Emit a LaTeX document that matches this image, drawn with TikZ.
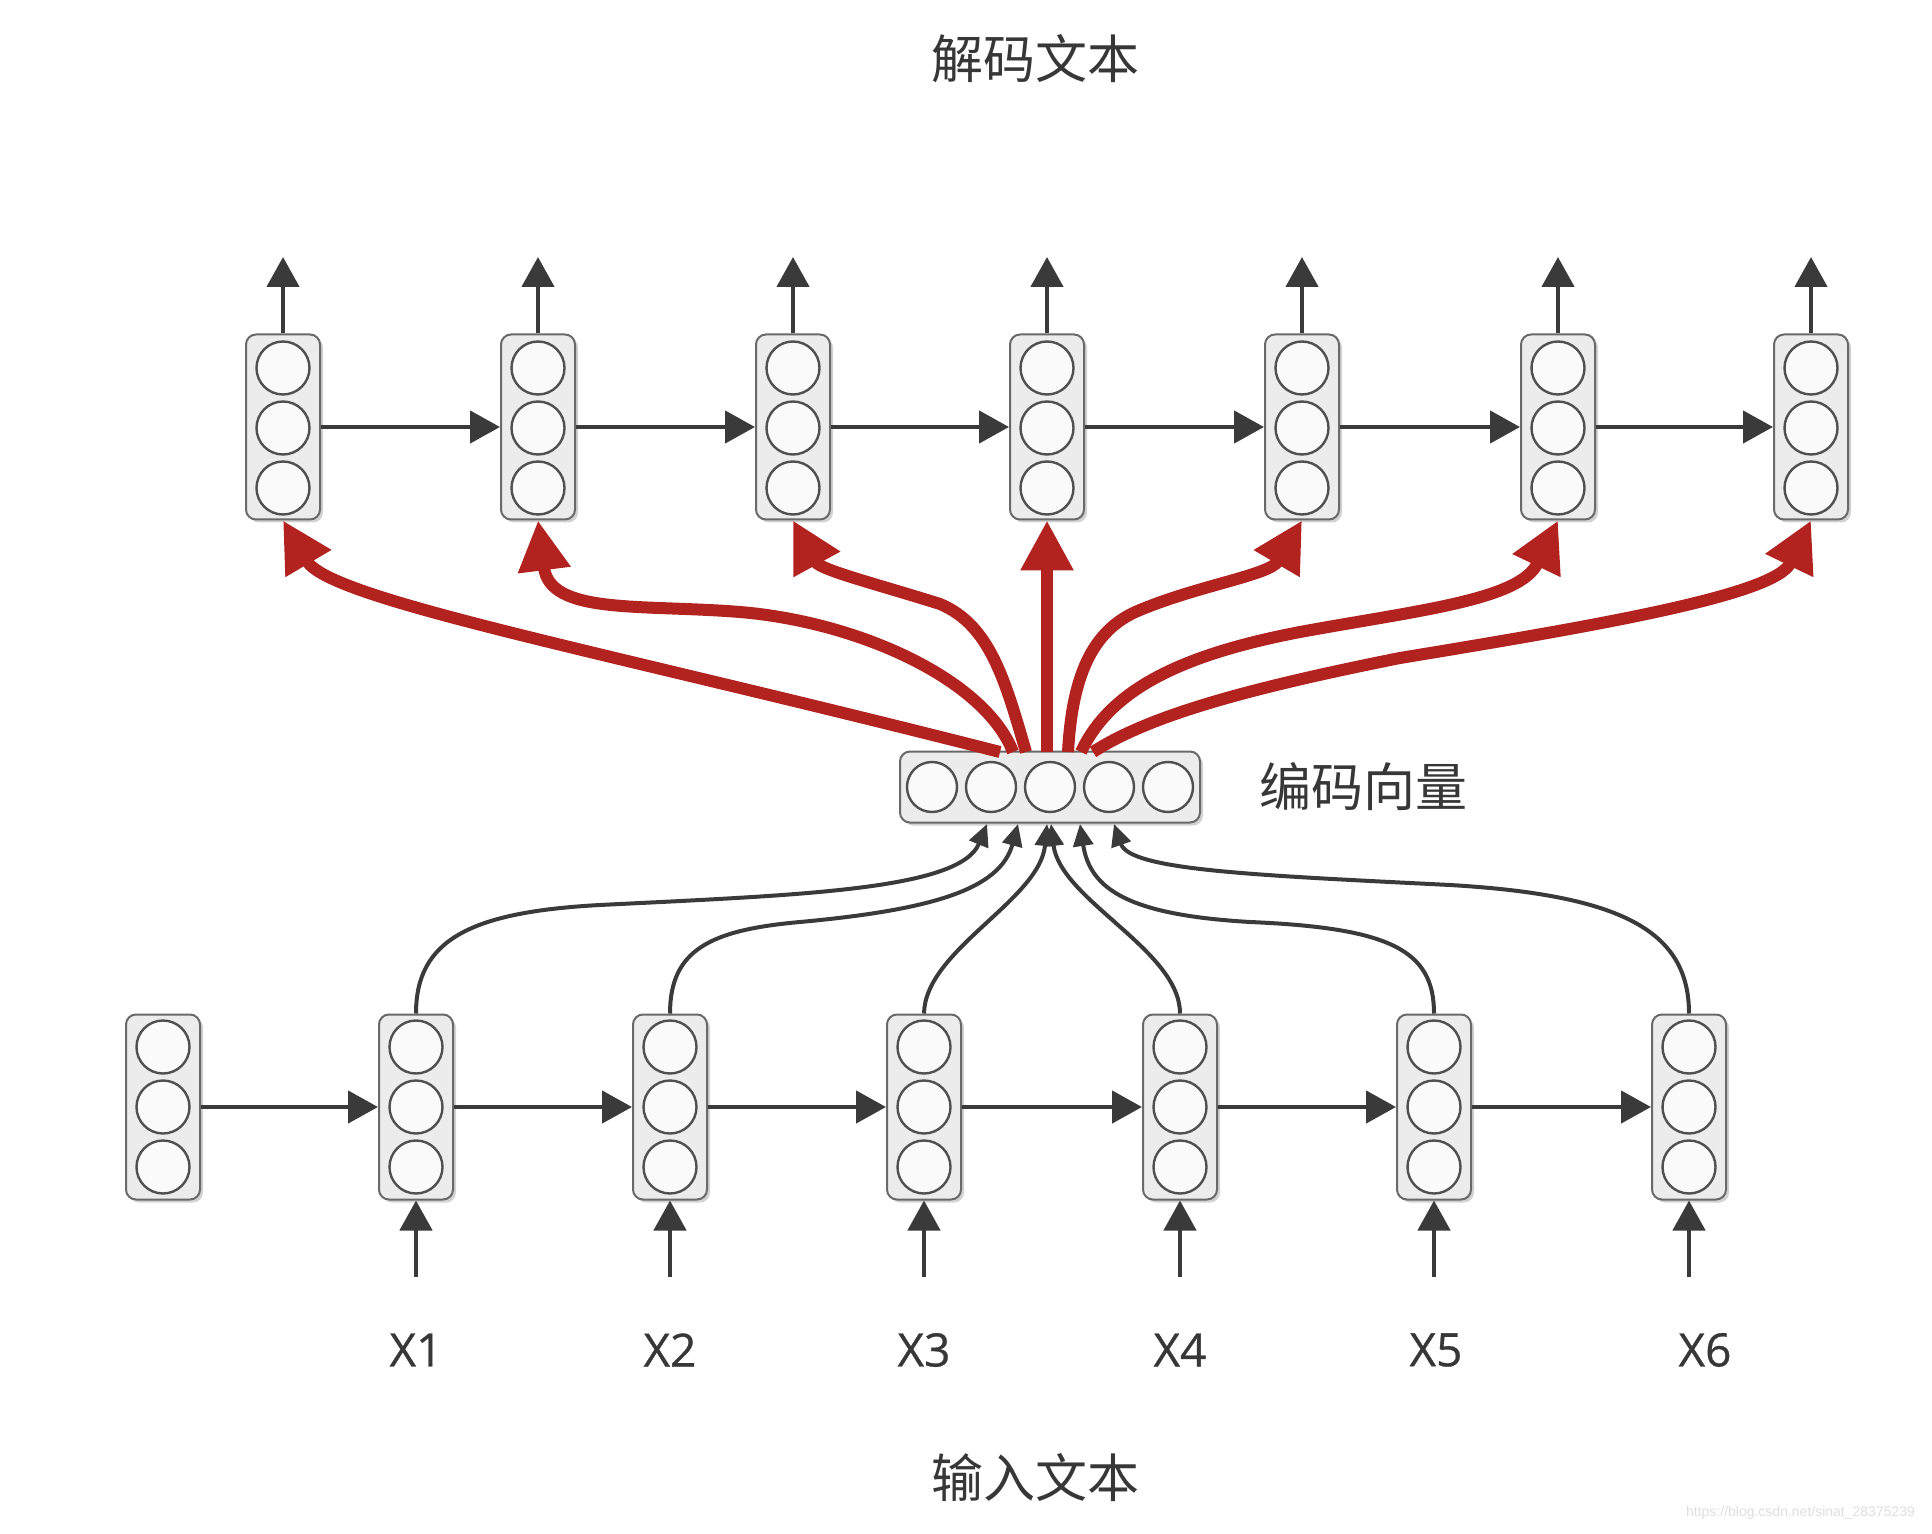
\documentclass[tikz,border=0pt]{standalone}
\usepackage{fontspec}
\usetikzlibrary{arrows.meta,shadows}
\newfontfamily\cjk{Noto Sans CJK SC}
\newfontfamily\labfont[FakeBold=0.6]{Open Sans}
\newfontfamily\wmfont{Liberation Sans}
\definecolor{ctxred}{RGB}{178,34,30}
\definecolor{linecol}{RGB}{58,58,58}
\definecolor{cellborder}{RGB}{105,105,105}
\definecolor{cellfill}{RGB}{236,236,236}
\definecolor{circborder}{RGB}{80,80,80}
\definecolor{labcol}{RGB}{55,55,55}
\begin{document}
\begin{tikzpicture}[x=0.5pt,y=-0.5pt,
  cell/.style={draw=cellborder, line width=1pt, fill=cellfill, rounded corners=5pt,
    minimum width=37pt, minimum height=92.5pt, inner sep=0pt,
    drop shadow={shadow xshift=1.5pt,shadow yshift=-1.5pt,opacity=0.35,fill=gray}},
  unit/.style={draw=circborder, line width=1.2pt, fill=white!96!gray},
  link/.style={draw=linecol, line width=2.3pt, -{Triangle[length=15pt,width=16pt]}},
  feed/.style={draw=linecol, line width=2pt, -{Triangle[length=11pt,width=10pt]}},
  ctx/.style={draw=ctxred, line width=6pt, -{Triangle[length=25pt,width=25pt]}},
  lab/.style={font=\labfont\fontsize{23}{26}\selectfont, text=labcol},
  cjklab/.style={font=\cjk\fontsize{26}{30}\selectfont, text=labcol}]

\useasboundingbox (0,0) rectangle (1932,1534);
\fill[white] (0,0) rectangle (1932,1534);

% decoder cells
\foreach \x [count=\i] in {283,538,793,1047,1302,1558,1811} {
  \node[cell] (T\i) at (\x,427) {};
  \foreach \cy in {368,428,488} \draw[unit] (\x,\cy) circle[radius=13.25pt];
  \coordinate (o\i) at (\x,257);
  \draw[link] (T\i.north) -- (o\i);
}
\foreach \i [evaluate=\i as \j using int(\i+1)] in {1,...,6}
  \draw[link] (T\i.east) -- (T\j.west);

% encoder cells
\foreach \x [count=\i from 0] in {163,416,670,924,1180,1434,1689} {
  \node[cell] (B\i) at (\x,1107) {};
  \foreach \cy in {1047,1107,1167} \draw[unit] (\x,\cy) circle[radius=13.25pt];
}
\foreach \i [evaluate=\i as \j using int(\i+1)] in {0,...,5}
  \draw[link] (B\i.east) -- (B\j.west);

\foreach \i/\x/\lx in {1/416/416,2/670/670,3/924/924,4/1180/1180,5/1434/1436,6/1689/1705} {
  \coordinate (in\i) at (\x,1277);
  \draw[link] (in\i) -- (B\i.south);
  \node[lab] (X\i) at (\lx,1350) {X\i};
}

% encoding vector
\node[cell, minimum width=150pt, minimum height=35.5pt] (E) at (1050,787) {};
\foreach \x in {932,991,1050,1109,1168} \draw[unit] (\x,787) circle[radius=12.5pt];

% labels
\node[cjklab] (dec) at (1035,59) {解码文本};
\node[cjklab, anchor=west] (enc) at (1252,787) {编码向量};
\node[cjklab] (inp) at (1035,1478) {输入文本};
\node[font=\wmfont\fontsize{7}{8}\selectfont, text=gray!25, anchor=east] (wm) at (1922,1513) {https://blog.csdn.net/sinat\_28375239};

% context (red) arrows
\coordinate (r1) at (1000,752);
\coordinate (r2) at (1013,752);
\coordinate (r3) at (1026,752);
\coordinate (r4) at (1047,752);
\coordinate (r5) at (1068,752);
\coordinate (r6) at (1081,752);
\coordinate (r7) at (1093,752);
\draw[ctx] (r1) .. controls (600,650) and (330,600) .. (T1.south);
\draw[ctx] (r2) .. controls (985,680) and (860,622) .. (740,612) .. controls (640,604) and (550,615) .. (T2.south);
\draw[ctx] (r3) .. controls (1005,680) and (990,625) .. (940,604) .. controls (880,585) and (820,570) .. (T3.south);
\draw[ctx] (r4) -- (T4.south);
\draw[ctx] (r5) .. controls (1072,680) and (1090,630) .. (1140,610) .. controls (1200,585) and (1270,575) .. (T5.south);
\draw[ctx] (r6) .. controls (1110,690) and (1180,655) .. (1300,632) .. controls (1420,610) and (1520,600) .. (T6.south);
\draw[ctx] (r7) .. controls (1150,715) and (1250,688) .. (1400,658) .. controls (1600,625) and (1775,595) .. (T7.south);

% feeds into the encoding vector
\coordinate (e1) at (987,824);
\coordinate (e2) at (1018,824);
\coordinate (e3) at (1047,824);
\coordinate (e4) at (1051,824);
\coordinate (e5) at (1080,824);
\coordinate (e6) at (1114,824);
\draw[feed] (B1.north) .. controls (416,940) and (470,912) .. (600,905) .. controls (800,895) and (960,890) .. (e1);
\draw[feed] (B2.north) .. controls (670,950) and (710,930) .. (800,922) .. controls (930,910) and (1000,890) .. (e2);
\draw[feed] (B3.north) .. controls (925,950) and (1040,900) .. (e3);
\draw[feed] (B4.north) .. controls (1180,950) and (1060,900) .. (e4);
\draw[feed] (B5.north) .. controls (1434,950) and (1390,928) .. (1250,922) .. controls (1130,915) and (1090,890) .. (e5);
\draw[feed] (B6.north) .. controls (1689,930) and (1620,895) .. (1450,885) .. controls (1250,875) and (1130,870) .. (e6);
\end{tikzpicture}
\end{document}
